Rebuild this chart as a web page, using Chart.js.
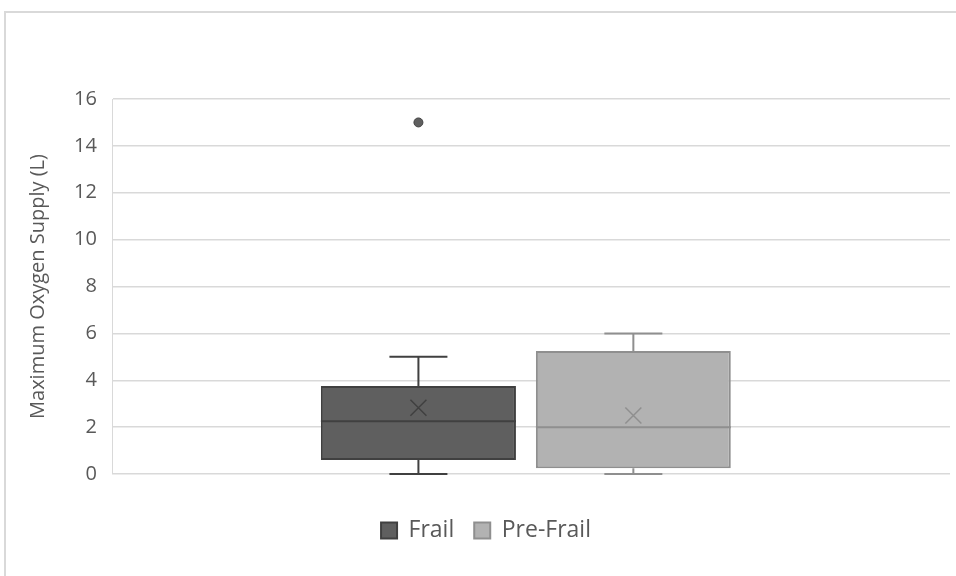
<!DOCTYPE html>
<html>
<head>
<meta charset="utf-8">
<script src="https://cdn.jsdelivr.net/npm/chart.js@4.4.0/dist/chart.umd.min.js"></script>
<style>
  html, body { margin: 0; padding: 0; background: #fff; }
  #wrap { position: relative; width: 956px; height: 576px; }
  #frame { position: absolute; left: 4px; top: 11px; width: 970px; height: 600px; border: 2px solid #d9d9d9; box-sizing: border-box; }
  canvas { position: absolute; left: 0; top: 0; }
</style>
</head>
<body>
<div id="wrap">
  <div id="frame"></div>
  <canvas id="boxChart" width="956" height="576"></canvas>
</div>
<script>
// box plot values
const groups = ["Frail", "Pre-Frail"];
const q1 = [0.6, 0.25];
const q3 = [3.75, 5.25];
const medians = [2.25, 2];
const means = [2.83, 2.5];
const whiskerLow = [0, 0];
const whiskerHigh = [5, 6];
const outliers = [[15], []];
const yTicks = [0, 2, 4, 6, 8, 10, 12, 14, 16];

const fills = ["#5f5f5f", "#b2b2b2"];
const edges = ["#404040", "#8f8f8f"];
// Excel places the pair slightly left of centre
const catPct = [0.54, 0.487];
const barPct = [0.863, 0.956];

// whiskers, medians, means and outliers drawn on top of the floating bars
const boxExtras = {
  id: "boxExtras",
  afterDatasetsDraw(chart) {
    const ctx = chart.ctx;
    const y = chart.scales.y;
    groups.forEach(function (g, i) {
      const bar = chart.getDatasetMeta(i).data[0];
      const cx = bar.x;
      const half = bar.width / 2;
      const cap = 29;
      ctx.save();
      ctx.strokeStyle = edges[i];
      ctx.lineWidth = 2;
      ctx.beginPath();
      // upper whisker
      ctx.moveTo(cx, y.getPixelForValue(q3[i]));
      ctx.lineTo(cx, y.getPixelForValue(whiskerHigh[i]));
      ctx.moveTo(cx - cap, y.getPixelForValue(whiskerHigh[i]));
      ctx.lineTo(cx + cap, y.getPixelForValue(whiskerHigh[i]));
      // lower whisker
      ctx.moveTo(cx, y.getPixelForValue(q1[i]));
      ctx.lineTo(cx, y.getPixelForValue(whiskerLow[i]));
      ctx.moveTo(cx - cap, y.getPixelForValue(whiskerLow[i]));
      ctx.lineTo(cx + cap, y.getPixelForValue(whiskerLow[i]));
      // median
      ctx.moveTo(cx - half, y.getPixelForValue(medians[i]));
      ctx.lineTo(cx + half, y.getPixelForValue(medians[i]));
      ctx.stroke();
      // mean marker
      const my = y.getPixelForValue(means[i]);
      ctx.lineWidth = 1.5;
      ctx.beginPath();
      ctx.moveTo(cx - 8, my - 8);
      ctx.lineTo(cx + 8, my + 8);
      ctx.moveTo(cx + 8, my - 8);
      ctx.lineTo(cx - 8, my + 8);
      ctx.stroke();
      // outliers
      outliers[i].forEach(function (v) {
        ctx.beginPath();
        ctx.fillStyle = fills[i];
        ctx.arc(cx, y.getPixelForValue(v), 4.5, 0, Math.PI * 2);
        ctx.fill();
        ctx.lineWidth = 1;
        ctx.stroke();
      });
      ctx.restore();
    });
  }
};

const ctx = document.getElementById("boxChart").getContext("2d");
const datasets = groups.map(function (g, i) {
  return {
    label: g,
    data: [[q1[i], q3[i]]],
    backgroundColor: fills[i],
    borderColor: edges[i],
    borderWidth: 2,
    borderSkipped: false,
    categoryPercentage: catPct[i],
    barPercentage: barPct[i]
  };
});

new Chart(ctx, {
  type: "bar",
  data: { labels: [""], datasets: datasets },
  plugins: [boxExtras],
  options: {
    responsive: false,
    animation: false,
    layout: { padding: { top: 99, right: 6, left: 22, bottom: 24 } },
    plugins: {
      tooltip: { enabled: false },
      legend: {
        position: "bottom",
        labels: {
          boxWidth: 16,
          boxHeight: 16,
          padding: 20,
          color: "#595959",
          font: { family: "Open Sans", size: 23 }
        }
      }
    },
    scales: {
      x: {
        grid: { display: false },
        border: { display: false },
        ticks: { display: false },
        afterFit: function (scale) { scale.height = 25; }
      },
      y: {
        min: 0,
        max: 16,
        afterBuildTicks: function (axis) {
          axis.ticks = yTicks.map(function (v) { return { value: v }; });
        },
        grid: { color: "#d9d9d9", lineWidth: 1.5, drawTicks: false },
        border: { display: true, color: "#d9d9d9" },
        ticks: {
          padding: 16,
          color: "#595959",
          font: { family: "Open Sans", size: 20 }
        },
        title: {
          display: true,
          text: "Maximum Oxygen Supply (L)",
          color: "#595959",
          padding: { bottom: 8 },
          font: { family: "Open Sans", size: 20 }
        }
      }
    }
  }
});
</script>
</body>
</html>
